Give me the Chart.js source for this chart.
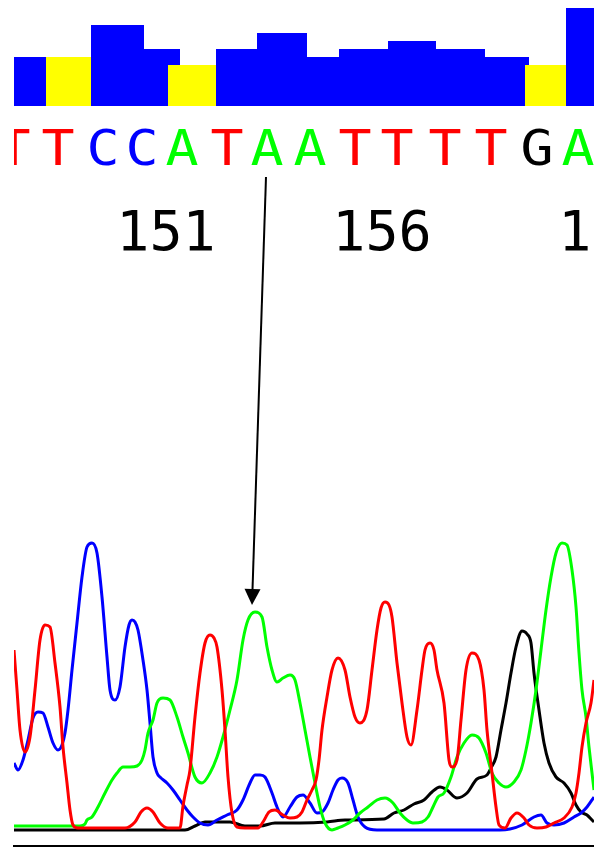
<!DOCTYPE html>
<html>
<head>
<meta charset="utf-8">
<script src="https://cdn.jsdelivr.net/npm/chart.js@4.4.1/dist/chart.umd.min.js"></script>
<style>
  html, body { margin: 0; padding: 0; background: #ffffff; }
  #wrap { position: relative; width: 594px; height: 847px; }
  canvas { display: block; }
</style>
</head>
<body>
<div id="wrap"><canvas id="c" width="594" height="847"></canvas></div>
<script>
// ---- Base calls (scan position of each called base) ----
const baseCalls = ['T','T','C','C','A','T','A','A','T','T','T','T','G','A'];
const basePositions = [0, 44, 89, 128, 168, 213, 253, 296, 341, 383, 431, 477, 523, 564];

// ---- Position numbering ----
const positionLabels = ['151', '156', '161'];
const positionScans = [152, 368, 594];

// ---- Quality bars (step edges in scan units, value per step) ----
const blueQualEdges  = [0, 32, 77, 130, 166, 202, 243, 293, 325, 374, 422, 471, 515, 552, 580];
const blueQualValues = [49, 0, 81, 57, 0, 57, 73, 49, 57, 65, 57, 49, 0, 98];
const yellowQualSegments = [[32, 77], [154, 202], [511, 552]];
const yellowQualValues = [49, 41, 41];

// ---- Trace data: [scan, intensity] ----
const traceT = [[0,179],[3,139],[6,99],[11,77],[16,92],[21,139],[26,189],[31,204],[36,202],[41,166],[46,122],[49,82],[53,46],[56,19],[59,4],[64,1],[86,1],[111,1],[121,7],[127,17],[133,21],[139,17],[146,6],[154,1],[166,1],[169,23],[173,44],[176,59],[181,112],[186,156],[191,186],[196,194],[200,191],[203,182],[208,139],[211,99],[214,52],[218,16],[223,2],[231,1],[244,1],[249,7],[255,17],[261,19],[269,14],[276,11],[283,12],[288,17],[293,29],[298,39],[302,49],[305,69],[308,99],[313,132],[318,159],[324,171],[331,159],[336,132],[341,112],[346,106],[353,119],[358,159],[363,199],[367,221],[371,227],[375,224],[378,212],[383,166],[388,126],[393,92],[397,84],[403,119],[408,159],[411,179],[416,186],[420,179],[423,159],[430,126],[435,69],[438,62],[443,69],[447,109],[452,159],[458,176],[465,169],[470,139],[473,99],[478,56],[482,22],[485,4],[491,1],[497,11],[503,16],[510,11],[515,4],[523,1],[532,2],[540,6],[550,11],[558,22],[562,36],[565,56],[568,82],[572,106],[577,126],[580,149]];
const traceC = [[0,66],[4,59],[9,69],[14,89],[19,111],[24,117],[29,116],[34,102],[39,86],[44,79],[48,84],[51,96],[54,119],[58,159],[63,206],[68,252],[73,282],[78,286],[83,276],[88,232],[93,172],[96,139],[101,129],[106,142],[111,182],[115,204],[118,209],[121,207],[124,199],[129,169],[133,139],[136,106],[139,72],[143,56],[146,52],[153,46],[159,39],[166,29],[173,19],[179,12],[186,6],[194,4],[203,9],[213,14],[223,19],[229,29],[236,46],[241,54],[246,54],[251,52],[258,36],[263,22],[269,12],[276,22],[283,32],[289,34],[296,26],[303,16],[308,17],[314,26],[319,39],[324,49],[328,51],[334,46],[339,29],[344,12],[351,2],[363,-1],[406,-1],[486,-1],[496,0],[508,4],[520,12],[527,14],[533,6],[540,4],[550,6],[560,12],[567,16],[573,22],[580,32]];
const traceA = [[0,3],[46,3],[66,3],[71,5],[73,9],[78,12],[84,22],[91,36],[98,49],[103,56],[109,62],[116,62],[123,63],[128,69],[131,79],[134,96],[139,109],[143,126],[149,131],[156,129],[163,112],[169,92],[174,76],[181,52],[188,46],[196,56],[203,72],[209,92],[216,119],[223,149],[229,189],[234,209],[241,217],[248,212],[253,182],[258,159],[263,147],[269,151],[276,154],[281,149],[286,126],[291,99],[296,72],[301,46],[306,22],[311,6],[318,-1],[324,1],[331,4],[339,9],[346,16],[354,22],[363,29],[371,31],[379,26],[386,16],[393,9],[399,6],[408,7],[414,12],[419,22],[424,32],[430,36],[437,52],[443,72],[450,86],[458,94],[465,91],[472,76],[478,56],[485,46],[492,42],[500,47],[507,59],[512,79],[517,106],[522,139],[527,179],[532,219],[537,252],[542,276],[548,286],[553,284],[558,259],[562,222],[565,176],[568,139],[572,112],[575,82],[578,56],[580,39]];
const traceG = [[0,-1],[86,-1],[171,-1],[181,3],[191,7],[216,7],[231,3],[246,3],[261,6],[286,6],[313,7],[331,9],[370,10],[380,16],[390,19],[400,25],[410,29],[418,37],[426,42],[433,39],[443,31],[453,36],[463,50],[473,54],[477,61],[482,72],[487,99],[492,126],[497,156],[502,182],[508,198],[513,195],[517,186],[520,156],[525,119],[530,86],[535,66],[542,52],[550,46],[557,36],[562,24],[567,17],[573,14],[578,9],[580,7]];

// ---- Annotation arrow (scan, intensity) ----
const arrowFrom = [252, 652];
const arrowTo = [238, 224];

const baseColors = { A: '#00ff00', C: '#0000ff', G: '#000000', T: '#ff0000' };

const toXY = arr => arr.map(p => ({ x: p[0], y: p[1] }));

// Build rectangular (step) outlines from the edge/value arrays
const blueQualPoints = [];
blueQualValues.forEach((v, i) => {
  blueQualPoints.push({ x: blueQualEdges[i], y: v });
  blueQualPoints.push({ x: blueQualEdges[i + 1], y: v });
});
const yellowQualSets = yellowQualSegments.map((s, i) => ([
  { x: s[0], y: 0 }, { x: s[0], y: yellowQualValues[i] },
  { x: s[1], y: yellowQualValues[i] }, { x: s[1], y: 0 }
]));

function traceDs(label, data, color) {
  return {
    label, data: toXY(data), yAxisID: 'y',
    borderColor: color, borderWidth: 3, pointRadius: 0,
    cubicInterpolationMode: 'monotone', fill: false
  };
}
function qualDs(label, data, color) {
  return {
    label, data, yAxisID: 'yq', tension: 0,
    borderWidth: 0, borderColor: color, pointRadius: 0,
    backgroundColor: color, fill: 'origin'
  };
}

const overlayPlugin = {
  id: 'overlay',
  afterDatasetsDraw(chart) {
    const { ctx, chartArea, scales } = chart;
    const x = scales.x, y = scales.y, yq = scales.yq;
    ctx.save();
    ctx.beginPath();
    ctx.rect(chartArea.left, 0, chartArea.right - chartArea.left, chart.height);
    ctx.clip();
    // base letters
    ctx.textAlign = 'center';
    ctx.textBaseline = 'alphabetic';
    const letterY = yq.getPixelForValue(-59);
    baseCalls.forEach((b, i) => {
      const px = x.getPixelForValue(basePositions[i]);
      ctx.save();
      ctx.translate(px, letterY);
      ctx.scale(1.12, 1);
      ctx.font = '49px "DejaVu Sans Mono"';
      ctx.fillStyle = baseColors[b];
      ctx.fillText(b, 0, 0);
      ctx.restore();
    });
    // position numbers
    ctx.font = '55px "DejaVu Sans Mono"';
    ctx.fillStyle = '#000000';
    const numY = yq.getPixelForValue(-144);
    positionLabels.forEach((t, i) => {
      ctx.fillText(t, x.getPixelForValue(positionScans[i]), numY);
    });
    // arrow
    const x1 = x.getPixelForValue(arrowFrom[0]), y1 = y.getPixelForValue(arrowFrom[1]);
    const x2 = x.getPixelForValue(arrowTo[0]), y2 = y.getPixelForValue(arrowTo[1]);
    const ang = Math.atan2(y2 - y1, x2 - x1);
    const headLen = 16, headW = 8;
    const bx = x2 - headLen * Math.cos(ang), by = y2 - headLen * Math.sin(ang);
    ctx.strokeStyle = '#000000';
    ctx.lineWidth = 2;
    ctx.beginPath();
    ctx.moveTo(x1, y1);
    ctx.lineTo(bx, by);
    ctx.stroke();
    ctx.fillStyle = '#000000';
    ctx.beginPath();
    ctx.moveTo(x2, y2);
    ctx.lineTo(bx + headW * Math.sin(ang), by - headW * Math.cos(ang));
    ctx.lineTo(bx - headW * Math.sin(ang), by + headW * Math.cos(ang));
    ctx.closePath();
    ctx.fill();
    ctx.restore();
  }
};

new Chart(document.getElementById('c'), {
  type: 'line',
  data: {
    datasets: [
      traceDs('T', traceT, '#ff0000'),
      traceDs('A', traceA, '#00ff00'),
      traceDs('C', traceC, '#0000ff'),
      traceDs('G', traceG, '#000000'),
      ...yellowQualSets.map((d, i) => qualDs('QV low ' + (i + 1), d, '#ffff00')),
      qualDs('QV', blueQualPoints, '#0000ff')
    ]
  },
  options: {
    responsive: false,
    animation: false,
    devicePixelRatio: 1,
    layout: { padding: { left: 14, right: 0, top: 0, bottom: 1 } },
    plugins: { legend: { display: false }, tooltip: { enabled: false } },
    scales: {
      x: {
        type: 'linear', min: 0, max: 580, display: true,
        grid: { display: false, drawTicks: false },
        ticks: { display: false },
        border: { display: true, color: '#000000', width: 2 }
      },
      y: { type: 'linear', min: -17, max: 829, display: false },
      yq: { type: 'linear', min: -740, max: 106, display: false }
    }
  },
  plugins: [overlayPlugin]
});
</script>
</body>
</html>
